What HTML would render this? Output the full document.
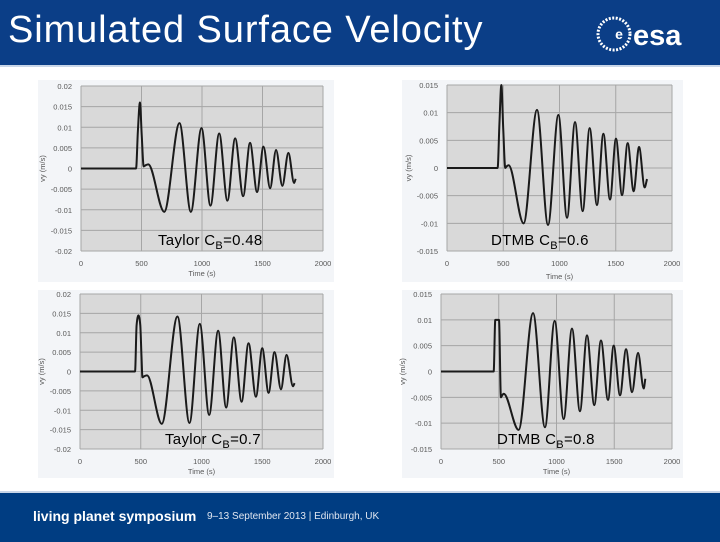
<!DOCTYPE html>
<html><head><meta charset="utf-8">
<style>
body{margin:0;width:720px;height:540px;overflow:hidden;background:#fff;font-family:"Liberation Sans",sans-serif;position:relative}
#hdr{position:absolute;left:0;top:0;width:720px;height:65px;background:#0b3e87;border-bottom:2px solid #c9d6e8}
#title{position:absolute;left:8px;top:9px;color:#fff;font-size:38px;letter-spacing:0.9px}
#ftr{position:absolute;left:0;top:491px;width:720px;height:49px;background:#003d82;border-top:2px solid #c9d6e8}
.card{position:absolute;background:#f3f5f8}
svg{position:absolute;left:0;top:0}
</style></head><body>
<div id="hdr">
<div id="title">Simulated Surface Velocity</div>
<svg id="logo" width="100" height="40" style="left:595px;top:14px">
<circle cx="19" cy="20" r="16" fill="none" stroke="#fff" stroke-width="3" stroke-dasharray="2 1.5"/>
<circle cx="24" cy="20" r="9" fill="#0b3e87"/>
<text x="24" y="25" fill="#fff" font-size="14" font-weight="bold" text-anchor="middle">e</text>
<text x="38" y="31" fill="#fff" font-size="29" font-weight="bold" font-family="Liberation Sans,sans-serif">esa</text>
</svg>
</div>
<div id="ftr">
<span style="position:absolute;left:33px;top:15px;color:#fff;font-weight:bold;font-size:14px">living planet symposium</span>
<span style="position:absolute;left:207px;top:18px;color:#dfe6f0;font-size:10px">9–13 September 2013 | Edinburgh, UK</span>
</div>
<div class="card" style="left:38px;top:80px;width:296px;height:202px"></div>
<div class="card" style="left:402px;top:80px;width:281px;height:202px"></div>
<div class="card" style="left:38px;top:290px;width:296px;height:188px"></div>
<div class="card" style="left:402px;top:290px;width:281px;height:188px"></div>
<svg id="charts" width="720" height="540"></svg>
<script>
const xTicks=[0,500,1000,1500,2000];
const t1=[0,455,470,487,502,518,535,556,688,814,908,996,1070,1142,1210,1274,1340,1397,1455,1508,1563,1612,1664,1714,1761,1774];
const v1=[0,0,0.009,0.016,0.008,0.0005,0.0008,0.001,-0.0105,0.011,-0.0105,0.0098,-0.009,0.0085,-0.0078,0.0073,-0.0067,0.0062,-0.0057,0.0053,-0.0048,0.0045,-0.0042,0.0038,-0.0035,-0.0025];
const t2=[0,450,466,483,500,518,530,548,681,800,898,990,1067,1138,1206,1268,1333,1390,1449,1502,1556,1606,1659,1707,1757,1778];
const v2=[0,0,0.008,0.015,0.007,0,0.0003,0.0005,-0.01,0.0105,-0.0103,0.0096,-0.009,0.0083,-0.0078,0.0072,-0.0067,0.0062,-0.0057,0.0053,-0.0049,0.0045,-0.0042,0.0038,-0.0035,-0.002];
const t3=[0,453,466,481,496,506,514,530,552,673,802,901,986,1063,1137,1203,1266,1330,1387,1448,1500,1552,1601,1654,1700,1753,1766];
const v3=[0,0,0.012,0.0145,0.012,0.004,-0.0015,-0.0012,-0.001,-0.0135,0.0142,-0.0133,0.0123,-0.0112,0.0105,-0.0093,0.0088,-0.0078,0.0073,-0.0065,0.006,-0.0055,0.005,-0.0046,0.0043,-0.0038,-0.003];
const t4=[0,456,470,502,519,530,543,672,797,900,984,1062,1134,1203,1264,1327,1385,1446,1495,1550,1602,1654,1706,1755,1769];
const v4=[0,0,0.01,0.01,-0.005,-0.0046,-0.0043,-0.0113,0.0113,-0.0108,0.0098,-0.0092,0.0083,-0.0077,0.007,-0.0065,0.006,-0.0055,0.005,-0.0046,0.0043,-0.004,0.0036,-0.0033,-0.0014];
const yTicks1=[0.02,0.015,0.01,0.005,0,-0.005,-0.01,-0.015,-0.02];
const yTicks2=[0.015,0.01,0.005,0,-0.005,-0.01,-0.015];
const labels=["Taylor C","DTMB C","Taylor C","DTMB C"];
const labelVals=["=0.48","=0.6","=0.7","=0.8"];
const NS="http://www.w3.org/2000/svg";
const svg=document.getElementById('charts');
function mk(tag,attrs,parent){const e=document.createElementNS(NS,tag);for(const k in attrs)e.setAttribute(k,attrs[k]);(parent||svg).appendChild(e);return e;}
function monotone(px,py){
 const n=px.length,d=[],m=[];
 for(let i=0;i<n-1;i++)d.push((py[i+1]-py[i])/(px[i+1]-px[i]));
 m[0]=d[0];m[n-1]=d[n-2];
 for(let i=1;i<n-1;i++){const h0=px[i]-px[i-1],h1=px[i+1]-px[i],s0=d[i-1],s1=d[i];
  const p=(s0*h1+s1*h0)/(h0+h1);
  m[i]=(Math.sign(s0)+Math.sign(s1))*Math.min(Math.abs(s0),Math.abs(s1),0.5*Math.abs(p))||0;}
 let s="M"+px[0]+","+py[0];
 for(let i=0;i<n-1;i++){const h=(px[i+1]-px[i])/3;
  s+=" C"+(px[i]+h)+","+(py[i]+m[i]*h)+" "+(px[i+1]-h)+","+(py[i+1]-m[i+1]*h)+" "+px[i+1]+","+py[i+1];}
 return s;}
const cfgs=[
 {L:81,R:323,T:86,B:251,yt:yTicks1,t:t1,v:v1,lx:158,ly:245,tl:276,name:'taylor-048'},
 {L:447,R:672,T:85,B:251,yt:yTicks2,t:t2,v:v2,lx:491,ly:245,tl:279,name:'dtmb-06'},
 {L:80,R:323,T:294,B:449,yt:yTicks1,t:t3,v:v3,lx:165,ly:444,tl:474,name:'taylor-07'},
 {L:441,R:672,T:294,B:449,yt:yTicks2,t:t4,v:v4,lx:497,ly:444,tl:474,name:'dtmb-08'}];
cfgs.forEach((c,k)=>{
 const ymax=c.yt[0],ymin=c.yt[c.yt.length-1];
 const X=t=>c.L+(t-0)/(2000)*(c.R-c.L);
 const Y=v=>c.T+(ymax-v)/(ymax-ymin)*(c.B-c.T);
 const g=mk('g',{});
 
 
 const bg=mk('rect',{x:c.L,y:c.T,width:c.R-c.L,height:c.B-c.T,fill:'#d9d9d9'},g);
 
 
 c.yt.forEach(v=>{
  const ln=mk('line',{x1:c.L,x2:c.R,y1:Y(v),y2:Y(v),stroke:'#a6a6a6','stroke-width':1},g);
  
  
  const tx=mk('text',{x:c.L-9,y:Y(v)+3,'font-size':7.5,fill:'#595959','text-anchor':'end'},g);
  tx.textContent=String(v);
  
  
 });
 xTicks.forEach(t=>{
  const ln=mk('line',{x1:X(t),x2:X(t),y1:c.T,y2:c.B,stroke:'#a6a6a6','stroke-width':1},g);
  
  
  const tx=mk('text',{x:X(t),y:c.B+15,'font-size':7.5,fill:'#595959','text-anchor':'middle'},g);
  tx.textContent=String(t);
  
  
 });
 const xt=mk('text',{x:(c.L+c.R)/2,y:c.tl,'font-size':7.5,fill:'#595959','text-anchor':'middle'},g);
 xt.textContent='Time (s)';
 
 
 const yx=c.L-36,yy=(c.T+c.B)/2;
 const yt=mk('text',{x:yx,y:yy,'font-size':7.5,fill:'#595959','text-anchor':'middle',transform:'rotate(-90 '+yx+' '+yy+')'},g);
 yt.textContent='vy (m/s)';
 
 
 const px=c.t.map(X),py=c.v.map(Y);
 const p=mk('path',{d:monotone(px,py),fill:'none',stroke:'#1a1a1a','stroke-width':2,'stroke-linejoin':'round'},g);
 
 
 const lb=mk('text',{x:c.lx,y:c.ly,'font-size':15,fill:'#000','letter-spacing':0.3},g);
 
 
 const a=mk('tspan',{},lb);a.textContent=labels[k];
 const b=mk('tspan',{dy:4,'font-size':11},lb);b.textContent='B';
 const d=mk('tspan',{dy:-4},lb);d.textContent=labelVals[k];
});
</script>
</body></html>
